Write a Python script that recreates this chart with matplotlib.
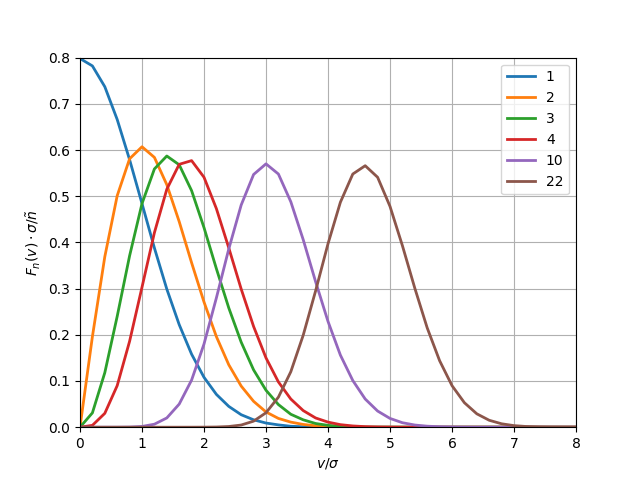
import matplotlib
matplotlib.use("Agg")
import matplotlib.pyplot as plt

# v/sigma grid (step 0.2) and curve values
v = [round(0.2 * i, 1) for i in range(41)]

f1 = [0.798, 0.782, 0.737, 0.666, 0.579, 0.484, 0.388, 0.299, 0.222, 0.158,
      0.108, 0.071, 0.045, 0.027, 0.016, 0.009, 0.005, 0.002, 0.001, 0.001,
      0.000] + [0.0] * 20
f2 = [0.000, 0.196, 0.369, 0.501, 0.581, 0.607, 0.584, 0.525, 0.445, 0.356,
      0.271, 0.196, 0.135, 0.089, 0.056, 0.033, 0.019, 0.011, 0.006, 0.003,
      0.001, 0.001] + [0.0] * 19
f3 = [0.000, 0.031, 0.118, 0.240, 0.371, 0.484, 0.559, 0.587, 0.568, 0.512,
      0.432, 0.343, 0.258, 0.184, 0.124, 0.080, 0.049, 0.028, 0.016, 0.008,
      0.004, 0.002, 0.001] + [0.0] * 18
f4 = [0.000, 0.004, 0.030, 0.090, 0.186, 0.303, 0.421, 0.515, 0.569, 0.577,
      0.541, 0.473, 0.388, 0.299, 0.218, 0.150, 0.098, 0.061, 0.036, 0.020,
      0.011, 0.0055, 0.0027, 0.0012, 0.0005, 0.0002] + [0.0] * 15
f10 = [0.0, 0.0, 0.0, 0.00002, 0.0003, 0.0016, 0.0065, 0.020, 0.050, 0.102,
       0.180, 0.280, 0.386, 0.481, 0.547, 0.570, 0.548, 0.488, 0.406, 0.315,
       0.229, 0.156, 0.101, 0.061, 0.035, 0.019, 0.0097, 0.0047, 0.0022, 0.001,
       0.0004, 0.00016] + [0.0] * 9
f22 = [0.0] * 9 + [0.00001, 0.0001, 0.0004, 0.0015, 0.0047, 0.0131, 0.0313,
       0.065, 0.120, 0.199, 0.295, 0.397, 0.487, 0.548, 0.566, 0.541, 0.478,
       0.393, 0.301, 0.215, 0.144, 0.090, 0.053, 0.029, 0.015, 0.0074, 0.0034,
       0.0015, 0.0006, 0.0002, 0.0001, 0.00003]

labels = ["1", "2", "3", "4", "10", "22"]
series = [f1, f2, f3, f4, f10, f22]

fig, ax = plt.subplots(figsize=(6.4, 4.8), dpi=100)
for y, lab in zip(series, labels):
    ax.plot(v, y, lw=2, label=lab)

ax.set_xlim(0, 8)
ax.set_ylim(0, 0.8)
ax.set_xlabel(r"$v/\sigma$")
ax.set_ylabel(r"$F_n(v)\cdot\sigma/\tilde{n}$")
ax.grid(True)
ax.legend(loc="upper right")

fig.savefig("out.png", dpi=100)
